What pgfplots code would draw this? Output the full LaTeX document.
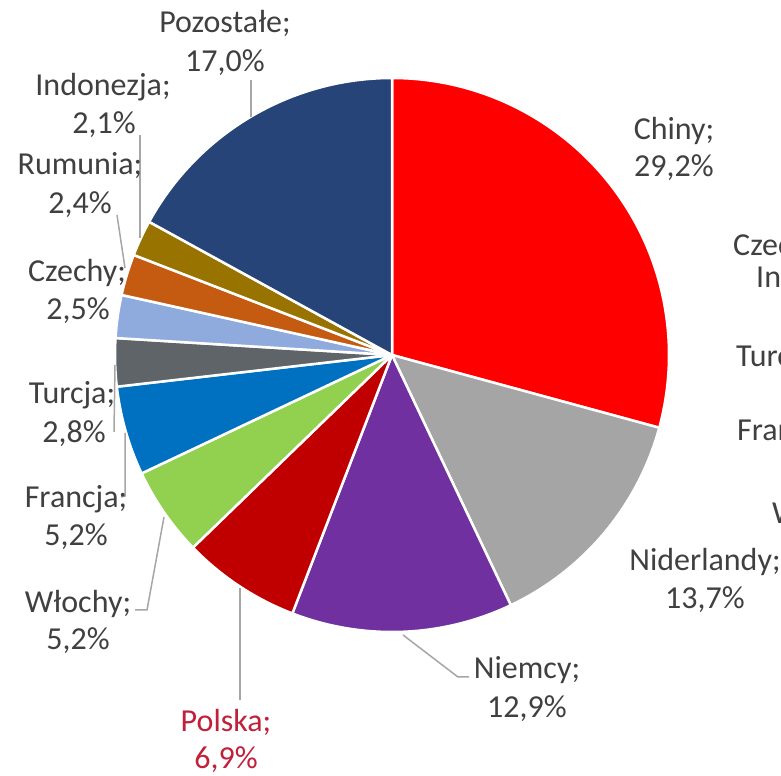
\documentclass[border=0pt]{standalone}
\usepackage{fontspec}
\setmainfont{Carlito}
\usepackage{pgfplots}
\pgfplotsset{compat=1.18}
\definecolor{cChiny}{HTML}{FF0000}
\definecolor{cNid}{HTML}{A5A5A5}
\definecolor{cNiem}{HTML}{7030A0}
\definecolor{cPol}{HTML}{C00000}
\definecolor{cWlo}{HTML}{92D050}
\definecolor{cFra}{HTML}{0070C0}
\definecolor{cTur}{HTML}{5F6468}
\definecolor{cCze}{HTML}{8FAADC}
\definecolor{cRum}{HTML}{C55A11}
\definecolor{cInd}{HTML}{997300}
\definecolor{cPoz}{HTML}{264478}
\definecolor{txt}{HTML}{404040}
\definecolor{polred}{HTML}{C0203A}
\definecolor{lead}{HTML}{A6A6A6}
\tikzset{lbl/.style={anchor=base, inner sep=0pt, text=txt, font=\fontsize{32bp}{38bp}\selectfont}}
\begin{document}
\begin{tikzpicture}
\begin{axis}[
  at={(0,0)}, anchor=origin,
  x=1bp, y=1bp, xmin=0, xmax=781, ymin=0, ymax=776,
  hide axis, scale only axis, clip=false,
]
\gdef\cum{0}
\foreach \v/\c in {29.2/cChiny,13.7/cNid,12.9/cNiem,6.9/cPol,5.2/cWlo,5.2/cFra,2.8/cTur,2.5/cCze,2.4/cRum,2.1/cInd,17.0/cPoz}{
  \pgfmathsetmacro\a{90-\cum*3.603604}
  \pgfmathsetmacro\b{90-(\cum+\v)*3.603604}
  \edef\doit{\noexpand\filldraw[fill=\c, draw=white, line width=2.5bp, line join=round]
    (axis cs:392,421) -- ++(\a:277bp) arc[start angle=\a, end angle=\b, radius=277bp] -- cycle;}
  \doit
  \pgfmathsetmacro\n{\cum+\v}\global\let\cum\n
}
% leader lines
\draw[lead, line width=1.5bp] (axis cs:251,696) -- (axis cs:251,659);
\draw[lead, line width=1.5bp] (axis cs:140,641) -- (axis cs:140,538);
\draw[lead, line width=1.5bp] (axis cs:117,561) -- (axis cs:125,508);
\draw[lead, line width=1.5bp] (axis cs:115,411) -- (axis cs:114,344);
\draw[lead, line width=1.5bp] (axis cs:125,343) -- (axis cs:125,280) -- (axis cs:121,279);
\draw[lead, line width=1.5bp] (axis cs:164,259) -- (axis cs:147,166) -- (axis cs:135,166);
\draw[lead, line width=1.5bp] (axis cs:240,188) -- (axis cs:240,76);
\draw[lead, line width=1.5bp] (axis cs:403,141) -- (axis cs:458,99) -- (axis cs:469,99);
% labels
\node[lbl] at (axis cs:225,743) {Pozostałe;};
\node[lbl] at (axis cs:225,704) {17,0\%};
\node[lbl] at (axis cs:103,680) {Indonezja;};
\node[lbl] at (axis cs:104,642) {2,1\%};
\node[lbl] at (axis cs:80,601) {Rumunia;};
\node[lbl] at (axis cs:80,562) {2,4\%};
\node[lbl] at (axis cs:77,494) {Czechy;};
\node[lbl] at (axis cs:78,456) {2,5\%};
\node[lbl] at (axis cs:72,373) {Turcja;};
\node[lbl] at (axis cs:74,334) {2,8\%};
\node[lbl] at (axis cs:76,269) {Francja;};
\node[lbl] at (axis cs:76,231) {5,2\%};
\node[lbl] at (axis cs:78,164) {Włochy;};
\node[lbl] at (axis cs:78,127) {5,2\%};
\node[lbl,text=polred] at (axis cs:226,45) {Polska;};
\node[lbl,text=polred] at (axis cs:226,8) {6,9\%};
\node[lbl] at (axis cs:527,98) {Niemcy;};
\node[lbl] at (axis cs:527,59) {12,9\%};
\node[lbl] at (axis cs:705,206) {Niderlandy;};
\node[lbl] at (axis cs:705,168) {13,7\%};
\node[lbl] at (axis cs:674,636) {Chiny;};
\node[lbl] at (axis cs:674,599) {29,2\%};
% clipped labels of a neighbouring chart at the right edge
\node[lbl,anchor=base west] at (axis cs:733,520) {Czechy;};
\node[lbl,anchor=base west] at (axis cs:756,488) {Indonezja;};
\node[lbl,anchor=base west] at (axis cs:736,409) {Turcja;};
\node[lbl,anchor=base west] at (axis cs:737,336) {Francja;};
\node[lbl,anchor=base west] at (axis cs:772,253) {Włochy;};
\end{axis}
\pgfresetboundingbox
\path[use as bounding box] (0,0) rectangle (781bp,776bp);
\end{tikzpicture}
\end{document}
